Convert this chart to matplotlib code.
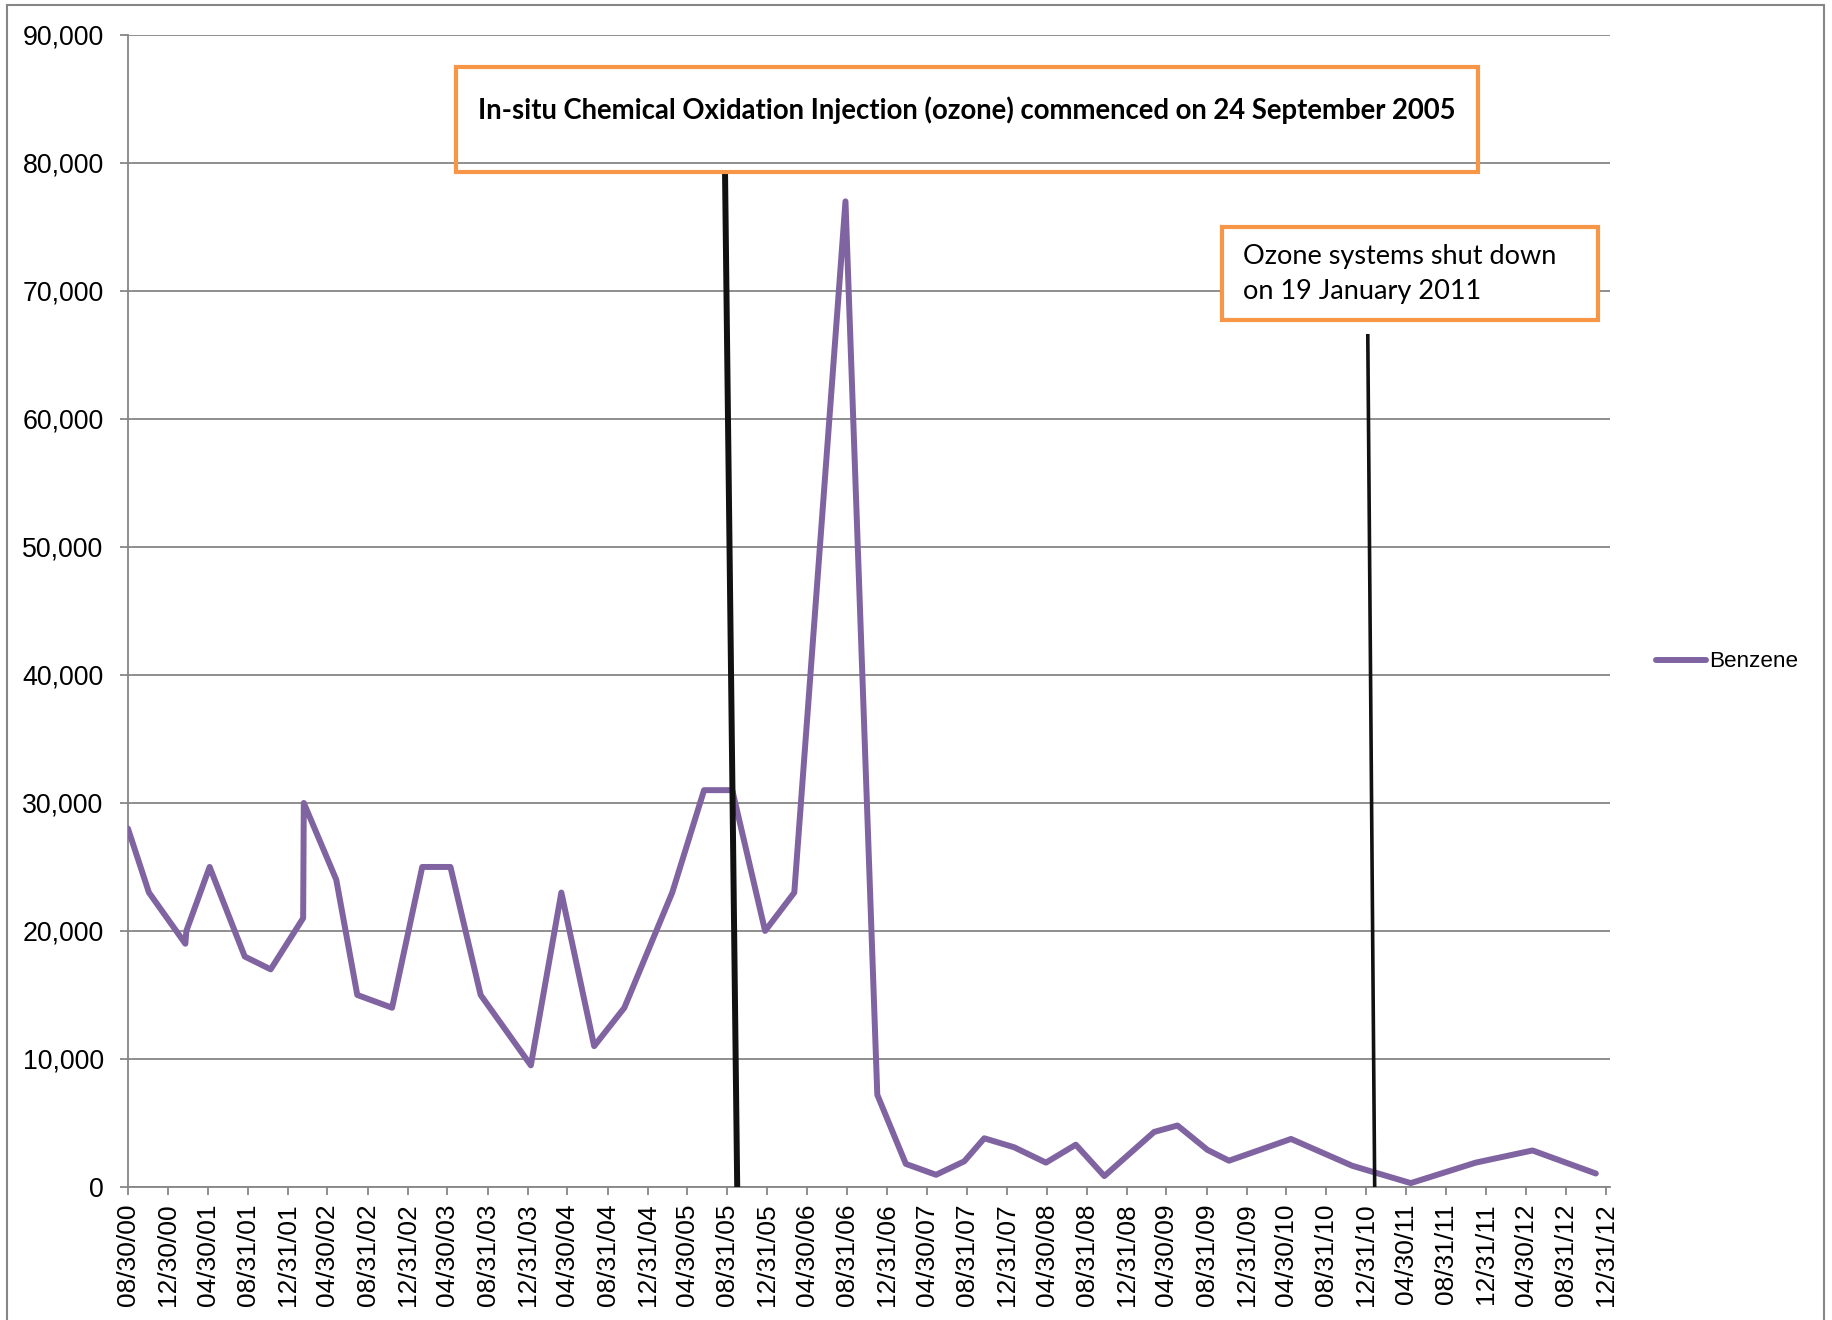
import datetime as dt
import matplotlib
matplotlib.use("Agg")
import matplotlib.pyplot as plt
import matplotlib.dates as mdates
from matplotlib.patches import Rectangle
from matplotlib.ticker import FuncFormatter

# Benzene samples (date, value)
sample_dates = [
    "2000-08-30", "2000-11-02", "2001-02-21", "2001-02-24", "2001-05-06",
    "2001-08-21", "2001-11-08", "2002-02-15", "2002-02-17", "2002-05-27",
    "2002-07-30", "2002-11-13", "2003-02-13", "2003-05-10", "2003-08-10",
    "2004-01-10", "2004-04-12", "2004-07-21", "2004-10-21", "2005-03-16",
    "2005-06-21", "2005-09-15", "2005-12-24", "2006-03-23", "2006-08-26",
    "2006-12-01", "2007-02-26", "2007-05-29", "2007-08-23", "2007-10-23",
    "2008-01-22", "2008-04-28", "2008-07-28", "2008-10-23", "2009-03-24",
    "2009-06-03", "2009-09-02", "2009-11-07", "2010-05-15", "2010-11-18",
    "2011-05-15", "2011-11-29", "2012-05-20", "2012-11-29",
]
benzene = [
    28000, 23000, 19000, 20000, 25000,
    18000, 17000, 21000, 30000, 24000,
    15000, 14000, 25000, 25000, 15000,
    9500, 23000, 11000, 14000, 23000,
    31000, 31000, 20000, 23000, 77000,
    7200, 1800, 950, 2000, 3800,
    3100, 1900, 3300, 850, 4300,
    4800, 2900, 2050, 3750, 1650,
    300, 1900, 2850, 1050,
]

tick_labels = [
    "08/30/00", "12/30/00", "04/30/01", "08/31/01", "12/31/01", "04/30/02",
    "08/31/02", "12/31/02", "04/30/03", "08/31/03", "12/31/03", "04/30/04",
    "08/31/04", "12/31/04", "04/30/05", "08/31/05", "12/31/05", "04/30/06",
    "08/31/06", "12/31/06", "04/30/07", "08/31/07", "12/31/07", "04/30/08",
    "08/31/08", "12/31/08", "04/30/09", "08/31/09", "12/31/09", "04/30/10",
    "08/31/10", "12/31/10", "04/30/11", "08/31/11", "12/31/11", "04/30/12",
    "08/31/12", "12/31/12",
]

# marker lines (drawn shapes) for the two events
start_line_dates = ["2005-08-24", "2005-09-30"]
start_line_vals = [79000, 0]
stop_line_dates = ["2011-01-04", "2011-01-25"]
stop_line_vals = [66500, 0]

note_start = "In-situ Chemical Oxidation Injection (ozone) commenced on 24 September 2005"
note_stop = ["Ozone systems shut down", "on 19 January 2011"]

grey = "#868686"
purple = "#8064A2"
orange = "#F79646"


def to_dates(lst):
    return [dt.datetime.strptime(s, "%Y-%m-%d") for s in lst]


plt.rcParams["font.family"] = ["Liberation Sans", "DejaVu Sans"]

fig = plt.figure(figsize=(18.33, 13.2), dpi=100)
ax = fig.add_axes([0.0698, 0.1008, 0.8085, 0.8727])

ax.plot(to_dates(sample_dates), benzene, color=purple, lw=4.3,
        solid_joinstyle="round", solid_capstyle="round", label="Benzene", zorder=3)
ax.plot(to_dates(start_line_dates), start_line_vals, color="#111111", lw=4.3, zorder=4)
ax.plot(to_dates(stop_line_dates), stop_line_vals, color="#111111", lw=2.6, zorder=4)

tick_dates = [dt.datetime.strptime(s, "%m/%d/%y") for s in tick_labels]
ax.set_xticks(mdates.date2num(tick_dates))
ax.set_xticklabels(tick_labels, rotation=90, fontsize=19)
ax.set_xlim(mdates.date2num(dt.datetime(2000, 8, 30)), mdates.date2num(dt.datetime(2013, 1, 11)))

ax.set_ylim(0, 90000)
ax.set_yticks(range(0, 90001, 10000))
ax.yaxis.set_major_formatter(FuncFormatter(lambda v, p: f"{v:,.0f}"))
ax.tick_params(axis="y", labelsize=19.3, length=5.5, color=grey, width=1.3, pad=12)
ax.tick_params(axis="x", length=5.5, color=grey, width=1.3, pad=6.5)

ax.grid(axis="y", color=grey, lw=1.3)
ax.set_axisbelow(True)
for side in ["top", "right"]:
    ax.spines[side].set_visible(False)
for side in ["left", "bottom"]:
    ax.spines[side].set_color(grey)
    ax.spines[side].set_linewidth(1.3)
ax.patch.set_alpha(0)

fig.legend(loc="center left", bbox_to_anchor=(0.9035, 0.4985), frameon=False,
           fontsize=16.2, handlelength=2.2, handletextpad=0.15, borderpad=0, borderaxespad=0)

# annotation boxes
fig.patches.append(Rectangle((0.2488, 0.8697), 0.5575, 0.0795, transform=fig.transFigure,
                             fill=False, edgecolor=orange, lw=3, zorder=5))
fig.text(0.5276, 0.9167, note_start, ha="center", va="center", fontsize=19.8,
         fontweight="bold", family=["Lato", "DejaVu Sans"], zorder=6)

fig.patches.append(Rectangle((0.6667, 0.7576), 0.2051, 0.0704, transform=fig.transFigure,
                             facecolor="white", edgecolor=orange, lw=3, zorder=5))
fig.text(0.6781, 0.806, note_stop[0], ha="left", va="center", fontsize=19.5,
         family=["Lato", "DejaVu Sans"], zorder=6)
fig.text(0.6781, 0.7795, note_stop[1], ha="left", va="center", fontsize=19.5,
         family=["Lato", "DejaVu Sans"], zorder=6)

# outer chart border
fig.patches.append(Rectangle((7 / 1833, -0.02), 1817 / 1833, 1.02 - 5 / 1320,
                             transform=fig.transFigure, fill=False, edgecolor=grey,
                             lw=1.5, zorder=0))

fig.savefig("out.png", dpi=100)
